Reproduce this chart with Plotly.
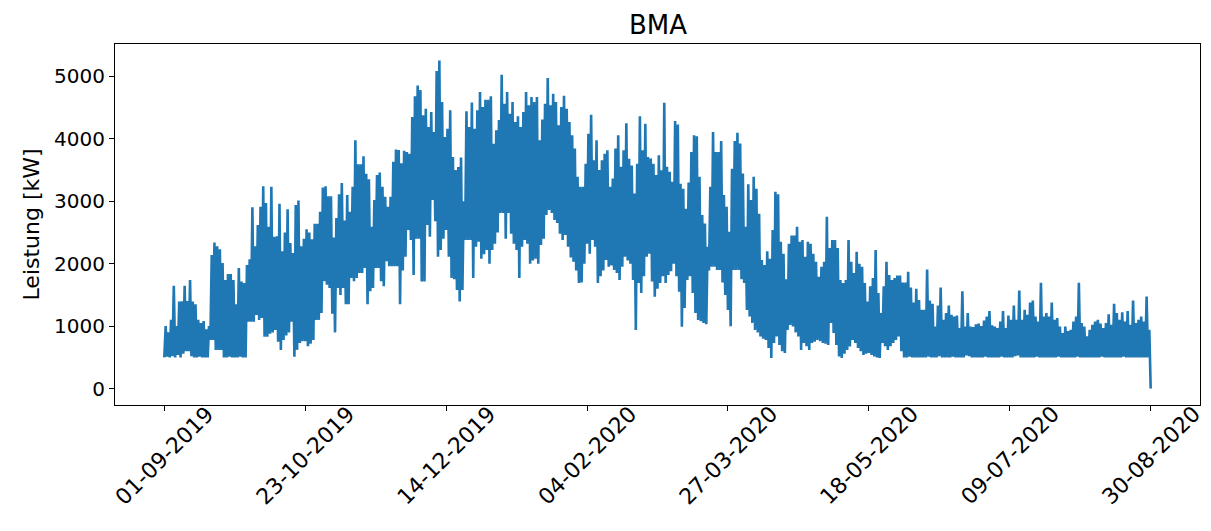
from datetime import datetime, timedelta

import plotly.graph_objects as go

# Daily minimum / maximum of the BMA power draw in kW, starting 01-09-2019
start_date = "01-09-2019"

daily_high = [
    1000, 900, 1100, 1645, 1000, 1395, 1400, 1645, 1400, 1740,
    1395, 1350, 1100, 1050, 1080, 950, 1000, 2140, 2340, 2280,
    2230, 2010, 1740, 1835, 1835, 1740, 1350, 1930, 1715, 1690,
    1980, 2070, 2905, 2280, 2620, 2910, 3240, 2970, 2590, 3230,
    2430, 2440, 2960, 2200, 2500, 2870, 2330, 2170, 2940, 3010,
    2280, 2400, 2550, 2500, 2390, 2640, 2640, 2830, 3220, 3240,
    3080, 3080, 2420, 2730, 3110, 3290, 2690, 3100, 2830, 3230,
    3975, 3590, 3590, 3720, 3440, 3350, 2590, 3020, 3420, 3460,
    3230, 3070, 2910, 3070, 3630, 3830, 3820, 3610, 3810, 3790,
    3760, 4350, 4680, 4855, 4780, 4375, 4480, 4190, 4430, 4110,
    5085, 5255, 4590, 4030, 4160, 4455, 3710, 3500, 3550, 3700,
    3000, 4440, 4190, 4580, 4160, 4455, 4750, 4510, 4625, 4625,
    4680, 3920, 4135, 4300, 5025, 4560, 4750, 4400, 4590, 4270,
    4360, 4190, 4430, 4750, 4535, 4670, 4590, 4670, 3975, 4310,
    4560, 4975, 4535, 4720, 4590, 4215, 4510, 4690, 4480, 4270,
    4055, 3845, 3390, 3230, 3230, 3600, 4080, 4385, 3655, 3975,
    3500, 3655, 3760, 3815, 3230, 3365, 3845, 4055, 3550, 3815,
    4250, 3680, 3570, 3125, 3600, 4360, 3815, 4240, 3710, 3685,
    3600, 3420, 3735, 3495, 4575, 3550, 3470, 3310, 4285, 4230,
    3280, 3200, 2880, 3300, 3790, 4055, 4040, 3390, 2780, 2645,
    2270, 3230, 4110, 3790, 3790, 3965, 3100, 2910, 2510, 3520,
    3965, 4095, 3925, 3445, 2590, 3270, 3020, 3390, 3200, 2800,
    2060, 1980, 2200, 2080, 2540, 3150, 3110, 2350, 2160, 1750,
    2320, 2450, 2450, 2590, 2350, 2380, 2110, 2350, 2320, 2160,
    2030, 1790, 1950, 2030, 2750, 2250, 2380, 2380, 2250, 1740,
    1690, 1740, 2380, 2030, 1850, 2190, 2000, 1950, 1690, 1395,
    1640, 1770, 2220, 1530, 1210, 1640, 2030, 1820, 1740, 1770,
    1810, 1810, 1700, 1700, 1870, 1620, 1380, 1600, 1420, 1260,
    1260, 1905, 1410, 1360, 995, 1330, 1620, 1100, 1210, 1330,
    1180, 1155, 1170, 970, 1560, 995, 1210, 995, 985, 1030,
    1040, 1000, 1090, 1155, 1240, 1015, 995, 970, 1075, 1240,
    970, 1170, 1100, 1330, 1100, 1570, 1100, 1260, 1180, 1380,
    1410, 1155, 1075, 1695, 1155, 1210, 1155, 1380, 1100, 1130,
    995, 890, 995, 920, 940, 1075, 1155, 1695, 1050, 995,
    835, 940, 1020, 1075, 1100, 1040, 970, 1050, 1190, 1020,
    1360, 1210, 1100, 1220, 1075, 1240, 1020, 1410, 1050, 1100,
    1155, 1075, 1475, 940,
]

daily_low = [
    500, 510, 500, 520, 500, 540, 500, 560, 600, 600,
    520, 500, 500, 510, 500, 500, 500, 780, 780, 620,
    620, 620, 500, 500, 510, 500, 500, 500, 510, 500,
    500, 1070, 1070, 1070, 1180, 1100, 1130, 830, 830, 880,
    900, 940, 750, 620, 780, 850, 900, 1070, 510, 620,
    730, 760, 760, 680, 720, 780, 1100, 1100, 1210, 1720,
    1665, 1610, 1200, 900, 1610, 1500, 1610, 1350, 1350, 1770,
    1720, 1770, 1850, 1850, 1930, 1350, 1560, 1610, 1930, 1930,
    1720, 1640, 2040, 1960, 1960, 1960, 1960, 1350, 1890, 2110,
    2540, 2380, 1820, 2400, 2400, 1715, 1715, 2620, 2430, 3020,
    2680, 2110, 2220, 2400, 2540, 2110, 1770, 1750, 1580, 1395,
    1580, 2380, 2380, 2380, 1770, 2270, 2350, 2080, 2150, 2220,
    2000, 2220, 2320, 2500, 2810, 2810, 2400, 2810, 2480, 2320,
    2220, 1770, 2270, 2380, 2320, 2000, 2050, 2080, 2000, 2300,
    2400, 2780, 2860, 2810, 2700, 2650, 2480, 2380, 2460, 2270,
    2100, 2030, 1890, 1690, 1700, 2000, 2320, 2160, 2380, 2270,
    1690, 1800, 1890, 2060, 1950, 1970, 1900, 1850, 1740, 1950,
    2110, 2050, 2000, 1740, 940, 1690, 1530, 1800, 2110, 2160,
    1715, 1470, 1600, 1690, 1800, 1690, 1820, 1880, 2000, 1800,
    1550, 990, 1290, 1740, 1800, 1530, 1210, 1100, 1080, 1050,
    1030, 1890, 1950, 1950, 1900, 1900, 1700, 1500, 1260, 1000,
    1900, 1900, 1900, 1750, 1690, 1260, 1155, 1050, 940, 900,
    835, 800, 780, 650, 490, 730, 835, 700, 600, 570,
    940, 1020, 995, 900, 835, 620, 730, 680, 620, 730,
    750, 780, 760, 730, 720, 700, 1050, 890, 700, 515,
    490, 560, 620, 675, 780, 730, 650, 600, 540, 560,
    570, 540, 515, 500, 490, 730, 680, 620, 680, 730,
    780, 835, 600, 500, 500, 510, 500, 500, 500, 500,
    500, 500, 510, 500, 500, 500, 520, 500, 500, 500,
    500, 510, 500, 500, 500, 500, 530, 520, 500, 500,
    500, 500, 500, 510, 500, 500, 500, 500, 500, 510,
    500, 500, 500, 500, 520, 530, 500, 500, 500, 500,
    500, 500, 510, 500, 500, 500, 500, 500, 500, 500,
    510, 500, 500, 500, 500, 500, 500, 510, 500, 500,
    500, 500, 500, 500, 500, 500, 510, 500, 500, 500,
    500, 500, 500, 500, 510, 500, 500, 500, 500, 500,
    500, 500, 500, 500,
]

# Last logged reading when the meter dropped out on 30-08-2020
final_value = 0

tick_labels = [
    "01-09-2019", "23-10-2019", "14-12-2019", "04-02-2020",
    "27-03-2020", "18-05-2020", "09-07-2020", "30-08-2020",
]

DATE_FMT = "%d-%m-%Y"
t0 = datetime.strptime(start_date, DATE_FMT)

# Each day contributes its low and its high reading (half a day apart)
x_vals, y_vals = [], []
for day, (lo, hi) in enumerate(zip(daily_low, daily_high)):
    x_vals.append(t0 + timedelta(days=day))
    y_vals.append(lo)
    x_vals.append(t0 + timedelta(days=day, hours=12))
    y_vals.append(hi)
x_vals.append(t0 + timedelta(days=len(daily_high)))
y_vals.append(final_value)

# 5 % padding around the data, like an autoscaled matplotlib axis
x_min, x_max = min(x_vals), max(x_vals)
x_pad = (x_max - x_min) * 0.05
y_min, y_max = min(y_vals), max(y_vals)
y_pad = (y_max - y_min) * 0.05

tick_dates = [datetime.strptime(s, DATE_FMT) for s in tick_labels]

FONT = "DejaVu Sans"
BLUE = "#1f77b4"

fig = go.Figure(
    go.Scatter(
        x=x_vals,
        y=y_vals,
        mode="lines",
        line=dict(color=BLUE, width=2.6),
        hoverinfo="skip",
    )
)

axis_common = dict(
    showline=True,
    linecolor="black",
    linewidth=1,
    mirror=True,
    ticks="outside",
    ticklen=5,
    tickwidth=1,
    tickcolor="black",
    showgrid=False,
    zeroline=False,
)

fig.update_xaxes(
    type="date",
    range=[x_min - x_pad, x_max + x_pad],
    tickvals=tick_dates,
    showticklabels=False,
    **axis_common,
)
fig.update_yaxes(
    range=[y_min - y_pad, y_max + y_pad],
    tickvals=[0, 1000, 2000, 3000, 4000, 5000],
    tickfont=dict(family=FONT, size=20, color="black"),
    **axis_common,
)

annotations = []
# Rotated date labels, centred under their ticks
for d, label in zip(tick_dates, tick_labels):
    annotations.append(
        dict(
            x=d, xref="x", y=0, yref="paper",
            text=label, showarrow=False, textangle=-45,
            xanchor="center", yanchor="middle", yshift=-50,
            font=dict(family=FONT, size=22, color="black"),
        )
    )
# Y axis title
annotations.append(
    dict(
        x=0, xref="paper", y=0.5, yref="paper",
        text="Leistung [kW]", showarrow=False, textangle=-90,
        xanchor="center", yanchor="middle", xshift=-84,
        font=dict(family=FONT, size=22, color="black"),
    )
)
# Chart title
annotations.append(
    dict(
        x=0.5, xref="paper", y=1, yref="paper",
        text="BMA", showarrow=False,
        xanchor="center", yanchor="bottom", yshift=2,
        font=dict(family=FONT, size=26, color="black"),
    )
)

fig.update_layout(
    width=1211,
    height=531,
    margin=dict(l=115, r=11, t=44, b=126),
    paper_bgcolor="white",
    plot_bgcolor="white",
    showlegend=False,
    annotations=annotations,
    font=dict(family=FONT, color="black"),
)

fig.write_html("out.html")
